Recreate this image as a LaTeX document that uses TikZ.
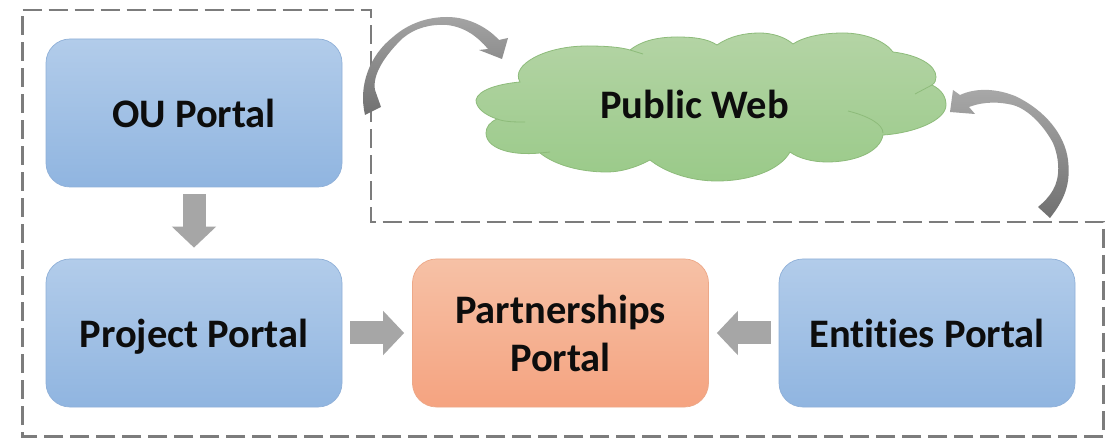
\documentclass[tikz,border=0pt]{standalone}
\usepackage{fontspec}
\setmainfont[RawFeature=-liga]{Carlito}
\usetikzlibrary{arrows.meta}
\definecolor{dashgray}{HTML}{7C7C7C}
\definecolor{blocks}{HTML}{A6A6A6}
\tikzset{
  x=1pt,y=-1pt,
  portal/.style={rounded corners=24pt,minimum width=296pt,minimum height=148pt,inner sep=0pt,
    align=center,line width=0.7pt,font=\fontsize{40.5}{48}\selectfont\bfseries,text=black!95},
  bluebox/.style={portal,draw=BoxLine,top color=BoxTop,bottom color=BoxBot},
  orangebox/.style={portal,draw=OrLine,top color=OrTop,bottom color=OrBot},
  region/.style={draw=dashgray,line width=2.4pt,dash pattern=on 19pt off 7pt},
  blockarrow/.style={draw=blocks,line width=23pt,-{Triangle[length=21pt,width=43pt]}},
  cloudfill/.style={draw=CloudLine,line width=0.8pt,top color=CloudTop,bottom color=CloudBot},
  crease/.style={draw=CloudLine,line width=0.8pt},
}
\definecolor{BoxTop}{HTML}{B2CCEA}
\definecolor{BoxBot}{HTML}{90B5E0}
\definecolor{BoxLine}{HTML}{8FB0D8}
\definecolor{OrTop}{HTML}{F6C1A6}
\definecolor{OrBot}{HTML}{F5A380}
\definecolor{OrLine}{HTML}{EDA888}
\definecolor{CloudTop}{HTML}{B4D4A5}
\definecolor{CloudBot}{HTML}{9ACA89}
\definecolor{CloudLine}{HTML}{8DBB7A}
\begin{document}
\begin{tikzpicture}
\useasboundingbox (0,0) rectangle (1109,438);
\fill[white] (0,0) rectangle (1109,438);
% dashed region
\draw[region] (22.5,10) -- (371,10) -- (371,222) -- (1103.5,222) -- (1103.5,436.5) -- (22.5,436.5) -- cycle;
% cloud
\path[cloudfill] (476,100) .. controls (478,90) and (498,84) .. (520,82)
  .. controls (510,65) and (545,46) .. (587,46)
  .. controls (605,46) and (620,47) .. (630,50)
  .. controls (640,42) and (655,37) .. (677,37)
  .. controls (695,37) and (708,39) .. (717,45)
  .. controls (730,36) and (745,33) .. (760,33)
  .. controls (772,33) and (785,37) .. (793,44)
  .. controls (805,36) and (825,33) .. (843,33)
  .. controls (865,33) and (885,41) .. (893,52)
  .. controls (918,55) and (936,65) .. (936,77)
  .. controls (936,80) and (935,83) .. (932,85)
  .. controls (942,90) and (946,97) .. (946,105)
  .. controls (946,120) and (915,133) .. (883,135)
  .. controls (880,152) and (855,162) .. (827,162)
  .. controls (812,162) and (798,158) .. (790,152)
  .. controls (780,170) and (750,181) .. (717,181)
  .. controls (690,181) and (665,172) .. (650,160)
  .. controls (635,168) and (620,172) .. (607,172)
  .. controls (580,172) and (555,165) .. (540,153)
  .. controls (510,156) and (486,148) .. (486,133)
  .. controls (486,127) and (490,122) .. (497,119)
  .. controls (485,115) and (476,108) .. (476,100) -- cycle;
\path[crease] (497,119) .. controls (505,122) and (515,122) .. (525,122);
\path[crease] (630,50) -- (643,54);
\path[crease] (932,85) -- (915,94);
\path[crease] (848,111) .. controls (868,116) and (883,124) .. (883,133);
\path[crease] (540,153) -- (550,152);
\node[font=\fontsize{40.5}{48}\selectfont\bfseries,text=black!95] (web) at (694.5,104) {Public Web};
% boxes
\node[bluebox] (ou) at (194,113) {OU Portal};
\node[bluebox,text depth=0pt] (project) at (194,333) {Project Portal};
\node[orangebox] (partner) at (560.5,333) {Partnerships\\Portal};
\node[bluebox] (entities) at (927,333) {Entities Portal};
% block arrows
\draw[blockarrow,shorten <=7pt,shorten >=11pt] (ou) -- (project);
\draw[blockarrow,shorten <=8pt,shorten >=8pt] (project) -- (partner);
\draw[blockarrow,shorten <=8pt,shorten >=8pt] (entities) -- (partner);
% curved arrows
\coordinate (arcA) at (365,115);
\coordinate (arcB) at (1050,218);
\path[bottom color=black!56,top color=black!36]
  (arcA) .. controls (358,85) and (370,55) .. (393,37)
  .. controls (410,22) and (430,17) .. (447,17)
  .. controls (468,17) and (487,27) .. (499,40)
  -- (508,38) -- (502,59) -- (479,50) -- (488,49)
  .. controls (478,37) and (465,27) .. (447,25)
  .. controls (430,24) and (415,28) .. (403,38)
  .. controls (385,55) and (372,75) .. (375,90)
  -- (381,107) -- cycle;
\path[bottom color=black!56,top color=black!34]
  (arcB) .. controls (1064,200) and (1071,185) .. (1068,160)
  .. controls (1065,135) and (1045,110) .. (1015,96)
  .. controls (995,88) and (975,88) .. (960,95)
  -- (953,90) -- (950,112) -- (975,114) -- (969,107)
  .. controls (985,101) and (1000,102) .. (1013,105)
  .. controls (1030,110) and (1045,128) .. (1053,143)
  .. controls (1060,160) and (1060,178) .. (1053,190)
  .. controls (1049,197) and (1044,202) .. (1038,207) -- cycle;
\end{tikzpicture}
\end{document}
